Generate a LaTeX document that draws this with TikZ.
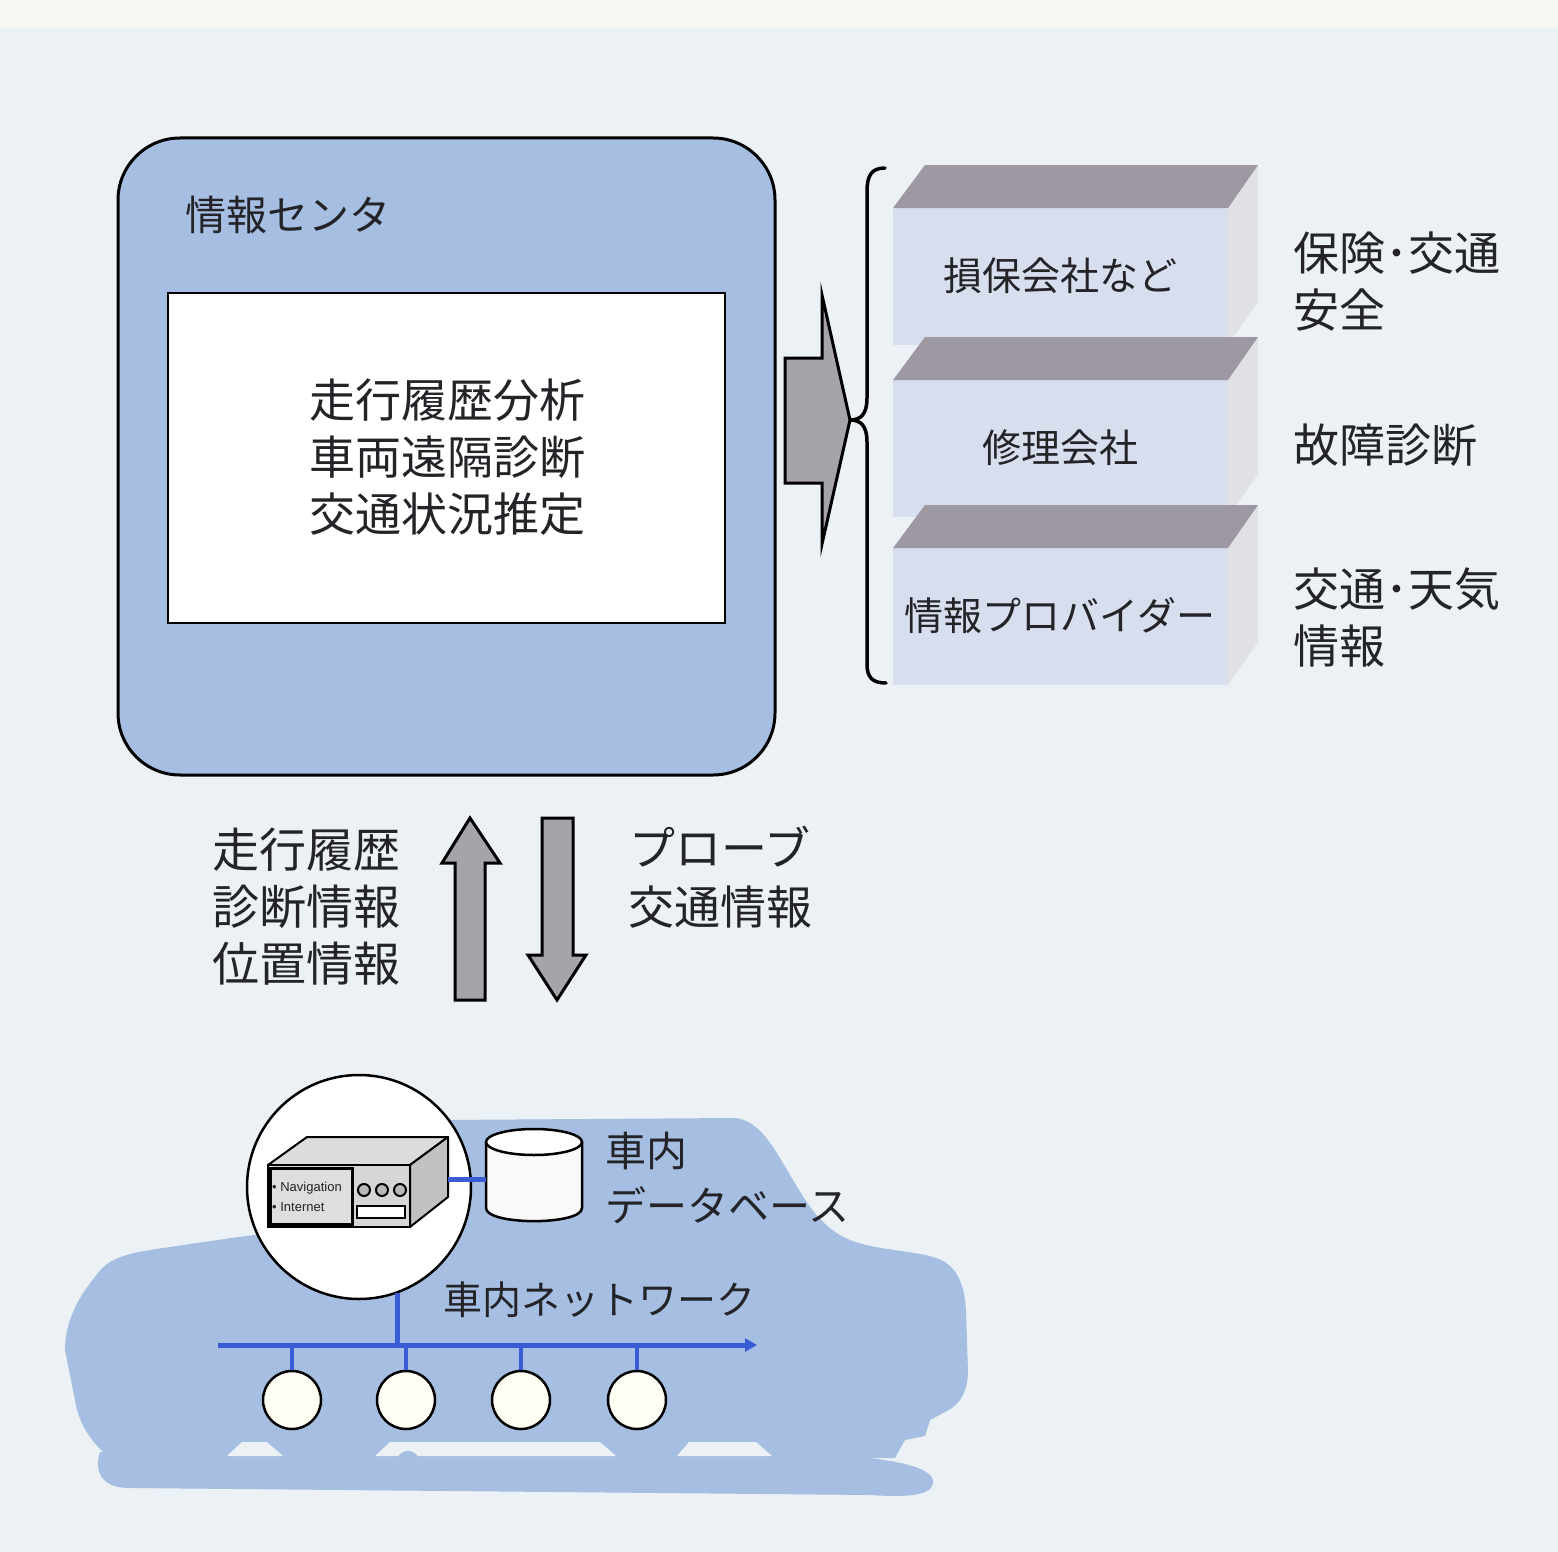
\documentclass[tikz,border=0pt]{standalone}
\usepackage{fontspec}
\setmainfont{Noto Sans CJK JP}
\newfontfamily\latinsf{Liberation Sans}
\usetikzlibrary{arrows.meta}
\definecolor{bg}{RGB}{236,241,245}
\definecolor{bgtop}{RGB}{246,246,242}
\definecolor{cblue}{RGB}{165,190,225}
\definecolor{netblue}{RGB}{55,92,212}
\definecolor{ink}{RGB}{35,35,40}
\definecolor{arrowgray}{RGB}{166,164,170}
\definecolor{boxfront}{RGB}{215,222,238}
\definecolor{boxtop}{RGB}{158,152,162}
\definecolor{boxside}{RGB}{224,225,228}
\definecolor{devgray}{RGB}{214,214,214}

% one stacked 3-D panel: #1 = top edge of the slanted lid, #2 = name, #3 = label
\newcommand{\panelbox}[3]{%
  \fill[boxside] (1228,#1+43) -- (1258,#1) -- (1258,#1+137) -- (1228,#1+180) -- cycle;
  \fill[boxfront] (893,#1+43) rectangle (1228,#1+180);
  \fill[boxtop] (893,#1+43) -- (1228,#1+43) -- (1258,#1) -- (925,#1) -- cycle;
  \node[boxlabel] (#2) at (1060,#1+111) {#3};
}

\begin{document}
\begin{tikzpicture}[x=1pt,y=-1pt,
  txt/.style={inner sep=0pt, text=ink},
  boxlabel/.style={txt, font=\fontsize{39}{47}\selectfont},
  biglabel/.style={txt, font=\fontsize{46}{57}\selectfont},
  blockarrow/.style={draw=black, line width=3pt, fill=arrowgray, line join=miter},
  net/.style={draw=netblue, line width=5pt},
  ecu/.style={circle, draw=black, line width=2.5pt, fill=white!96!yellow, minimum size=58pt, inner sep=0pt},
  outline/.style={draw=black, line width=2.5pt}]

% background
\useasboundingbox (0,0) rectangle (1558,1552);
\fill[bg] (0,0) rectangle (1558,1552);
\fill[bgtop] (0,0) rectangle (1558,28);

% ---------- information centre ----------
\node[draw=black, line width=3pt, fill=cblue, rounded corners=62pt,
      minimum width=657pt, minimum height=637pt, inner sep=0pt] (center) at (446.5,456.5) {};
\node[txt, anchor=west, font=\fontsize{41}{49}\selectfont] (ctrtitle) at (185,215) {情報センタ};
\node[draw=black, line width=2.5pt, fill=white, minimum width=557pt, minimum height=330pt,
      inner sep=0pt] (analysisbox) at (446.5,458) {};
\node[biglabel, align=center] (analysis) at (447,457) {走行履歴分析\\車両遠隔診断\\交通状況推定};

% ---------- service panels ----------
\panelbox{165}{box1}{損保会社など}
\panelbox{337}{box2}{修理会社}
\panelbox{505}{box3}{情報プロバイダー}

\node[biglabel, anchor=west, align=left] (use1) at (1293,281.5) {保険･交通\\安全};
\node[biglabel, anchor=west] (use2) at (1293,445) {故障診断};
\node[biglabel, anchor=west, align=left] (use3) at (1293,617.5) {交通･天気\\情報};

% ---------- distribution arrow and brace ----------
\coordinate (tip) at (850,420);
\path[blockarrow] (785,358) -- (822,358) -- (822,295) -- (tip) -- (822,544) -- (822,483) -- (785,483) -- cycle;
\draw[line width=3.5pt, line cap=round] (885,168) .. controls (871,168) and (867,176) .. (867,192)
  -- (867,398) .. controls (867,414) and (861,420) .. (tip)
  .. controls (861,420) and (867,426) .. (867,442)
  -- (867,664) .. controls (867,677) and (872,683) .. (886,683);

% ---------- up / down link ----------
\path[blockarrow] (455,1000) -- (485,1000) -- (485,863) -- (500,863) -- (470,818) -- (442,863) -- (455,863) -- cycle;
\path[blockarrow] (542,818) -- (573,818) -- (573,955) -- (586,955) -- (557,1000) -- (528,955) -- (542,955) -- cycle;
\node[txt, anchor=east, align=right, font=\fontsize{47}{57}\selectfont] (uplabel) at (401,907) {走行履歴\\診断情報\\位置情報};
\node[txt, align=center, font=\fontsize{46}{59}\selectfont] (downlabel) at (720,877.5) {プローブ\\交通情報};

% ---------- car silhouette ----------
\fill[cblue] (95,1277) .. controls (105,1262) and (118,1255) .. (150,1250)
  .. controls (190,1244) and (230,1238) .. (262,1234)
  .. controls (320,1180) and (380,1122) .. (440,1120)
  -- (735,1118)
  .. controls (760,1120) and (775,1150) .. (790,1175)
  .. controls (805,1200) and (820,1228) .. (850,1240)
  .. controls (880,1252) and (925,1250) .. (945,1262)
  .. controls (960,1272) and (965,1290) .. (966,1312)
  -- (968,1370)
  .. controls (968,1392) and (960,1405) .. (945,1412)
  -- (930,1420) -- (925,1436) -- (905,1440) -- (895,1458) -- (110,1458)
  .. controls (88,1440) and (78,1420) .. (75,1400)
  -- (65,1350) .. controls (65,1320) and (80,1295) .. (95,1277) -- cycle;
% ground shadow
\fill[cblue] (100,1452) -- (840,1455) .. controls (900,1460) and (936,1468) .. (933,1484)
  .. controls (930,1497) and (900,1497) .. (870,1495) -- (130,1488)
  .. controls (100,1488) and (94,1470) .. (100,1452) -- cycle;
% light gaps between body and ground
\fill[bg] (242,1442) -- (267,1442) -- (283,1456) -- (227,1456) -- cycle;
\fill[bg] (390,1442) -- (600,1442) -- (616,1456) -- (418,1456) .. controls (412,1449) and (404,1449) .. (398,1456) -- (375,1456) -- cycle;
\fill[bg] (689,1442) -- (756,1442) -- (772,1456) -- (677,1456) -- cycle;

% ---------- in-vehicle network ----------
\node[circle, outline, fill=white, minimum size=224pt, inner sep=0pt] (lens) at (359,1187) {};
\coordinate (bus west) at (218,1345);
\coordinate (bus east) at (757,1345);
\draw[net] (lens.-70) -- (lens.-70 |- bus west);
\draw[net, -{Triangle[length=12pt,width=13pt]}] (bus west) -- (bus east);
\foreach \i/\x in {1/292,2/406,3/521,4/637}{
  \node[ecu] (ecu\i) at (\x,1400) {};
  \draw[net, line width=3.5pt] (ecu\i.north) -- (ecu\i.north |- bus west);
}
\node[txt, anchor=west, font=\fontsize{39}{47}\selectfont] (netlabel) at (443,1300) {車内ネットワーク};

% navigation unit inside the lens
\fill[devgray!85!white, draw=black, line width=2pt, line join=round] (268,1165) -- (307,1137) -- (448,1137) -- (410,1165) -- cycle;
\fill[devgray!90!black, draw=black, line width=2pt, line join=round] (410,1165) -- (448,1137) -- (448,1197) -- (410,1227) -- cycle;
\node[draw=black, line width=2pt, fill=devgray, minimum width=142pt, minimum height=62pt, inner sep=0pt] (device) at (339,1196) {};
\node[draw=black, line width=3pt, fill=devgray!80!white, minimum width=82pt, minimum height=56pt, inner sep=0pt] (devpanel) at (311,1196) {};
\node[txt, anchor=west, align=left, font=\latinsf\fontsize{13}{20}\selectfont] (devtext) at (272,1197) {• Navigation\\• Internet};
\foreach \x in {364,382,400}{ \draw[line width=2pt, fill=gray!55] (\x,1190) circle (6); }
\draw[line width=1.5pt, fill=white] (357,1206) rectangle (405,1218);

% in-vehicle database
\coordinate (dbtopc) at (534,1142);
\fill[white!95!gray] (486,1142) -- (486,1208) .. controls (486,1225.5) and (582,1225.5) .. (582,1208) -- (582,1142) -- cycle;
\draw[outline] (486,1142) -- (486,1208) .. controls (486,1225.5) and (582,1225.5) .. (582,1208) -- (582,1142);
\draw[outline, fill=white] (dbtopc) ellipse [x radius=48, y radius=13];
\coordinate (db west) at (486,1179);
\coordinate (dev east) at (448,1179);
\draw[net] (dev east) -- (db west);
\node[txt, anchor=west, align=left, font=\fontsize{41}{55}\selectfont] (dblabel) at (605,1177.5) {車内\\データベース};

\end{tikzpicture}
\end{document}
